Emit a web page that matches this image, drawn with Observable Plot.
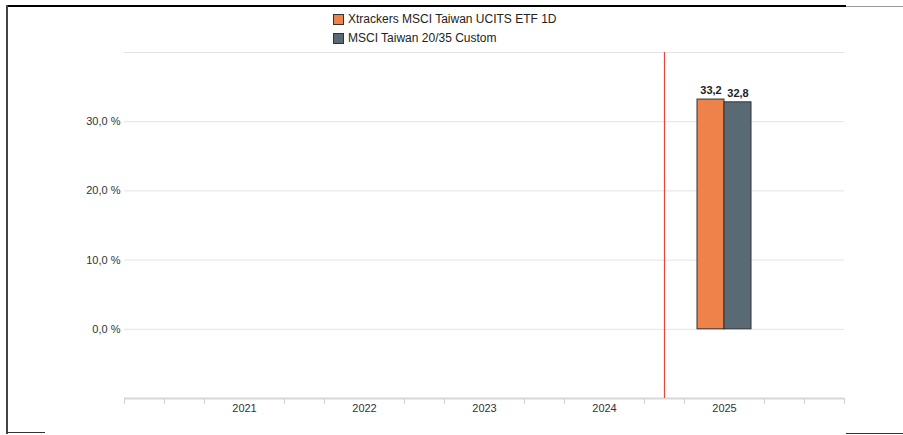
<!DOCTYPE html>
<html>
<head>
<meta charset="utf-8">
<script src="https://cdn.jsdelivr.net/npm/d3@7"></script>
<script src="https://cdn.jsdelivr.net/npm/@observablehq/plot@0.6"></script>
<style>
  html, body { margin: 0; padding: 0; background: #fff; font-family: "Liberation Sans", Arial, sans-serif; }
  #wrap { position: relative; width: 903px; height: 435px; overflow: hidden; }
  #legend { height: 45px; position: relative; }
  .item { position: absolute; left: 333px; font-size: 12px; color: #222; display: flex; align-items: center; white-space: nowrap; }
  .sw { width: 9px; height: 9px; border: 1px solid #333; margin-right: 4px; }
  .frame { position: absolute; background: #000; }
</style>
</head>
<body>
<div id="wrap">
  <div id="legend"></div>
  <div id="chart"></div>
  <div class="frame" style="left:7px;top:5px;width:839px;height:2px;"></div>
  <div class="frame" style="left:846px;top:6px;width:57px;height:1px;background:#999;"></div>
  <div class="frame" style="left:6px;top:5px;width:2px;height:429px;background:#444;"></div>
  <div class="frame" style="left:7px;top:432px;width:38px;height:1px;background:#333;"></div>
  <div class="frame" style="left:846px;top:433px;width:57px;height:1px;background:#333;"></div>
</div>
<script>
const series = ["Xtrackers MSCI Taiwan UCITS ETF 1D", "MSCI Taiwan 20/35 Custom"];
const seriesColors = ["#ED834A", "#5A6A75"];
const years = [2021, 2022, 2023, 2024, 2025];
const barYear = [2025, 2025];
const barValues = [33.2, 32.8];
const barLabels = ["33,2", "32,8"];
const markerYear = 2024.5;
const yTicks = [0, 10, 20, 30];
const yTickLabels = ["0,0 %", "10,0 %", "20,0 %", "30,0 %"];
const yDomain = [-10, 40];
const xDomain = [2020, 2026];

const bars = series.map((s, i) => ({series: s, i, year: barYear[i], value: barValues[i], label: barLabels[i]}));
const barW = 0.225;
const minorTicks = d3.range(0, 19).map(k => xDomain[0] + k / 3).filter(v => Math.abs(v - Math.round(v)) > 0.01 || v === 2020 || v === 2026);

const legend = document.getElementById("legend");
series.forEach((s, i) => {
  const el = document.createElement("div");
  el.className = "item";
  el.style.top = (12 + i * 19) + "px";
  el.innerHTML = `<span class="sw" style="background:${seriesColors[i]}"></span><span>${s}</span>`;
  legend.appendChild(el);
});

const chart = Plot.plot({
  width: 903,
  height: 390,
  marginTop: 7,
  marginBottom: 37,
  marginLeft: 124,
  marginRight: 59,
  style: {fontFamily: "Liberation Sans, Arial, sans-serif", fontSize: "11px", color: "#333", background: "transparent"},
  x: {type: "linear", domain: xDomain, label: null},
  y: {domain: yDomain, label: null},
  color: {domain: series, range: seriesColors},
  marks: [
    Plot.ruleY([0, 10, 20, 30, 40], {stroke: "#e3e3e3", strokeWidth: 1}),
    Plot.ruleY([yDomain[0]], {stroke: "#d8d8d8", strokeWidth: 2}),
    Plot.axisY({ticks: yTicks, tickSize: 0, tickPadding: 4, label: null, tickFormat: d => yTickLabels[yTicks.indexOf(d)], fill: "#333", fontSize: 11}),
    Plot.axisX({ticks: minorTicks, tickSize: 6, label: null, tickFormat: () => "", stroke: "#d0d0d0"}),
    Plot.axisX({ticks: years, tickSize: 0, tickPadding: 6, label: null, tickFormat: d => String(d), fill: "#333", fontSize: 11}),
    Plot.ruleX([markerYear], {stroke: "#e8453c", strokeWidth: 1.2}),
    Plot.rectY(bars, {
      x1: d => d.year - barW + d.i * barW,
      x2: d => d.year + d.i * barW,
      y1: 0,
      y2: "value",
      fill: "series",
      stroke: "#333",
      strokeWidth: 1
    }),
    Plot.text(bars, {
      x: d => d.year - barW / 2 + d.i * barW,
      y: "value",
      text: "label",
      dy: -9,
      fill: "#222",
      fontWeight: "bold",
      fontSize: 11
    })
  ]
});
document.getElementById("chart").appendChild(chart);
</script>
</body>
</html>
